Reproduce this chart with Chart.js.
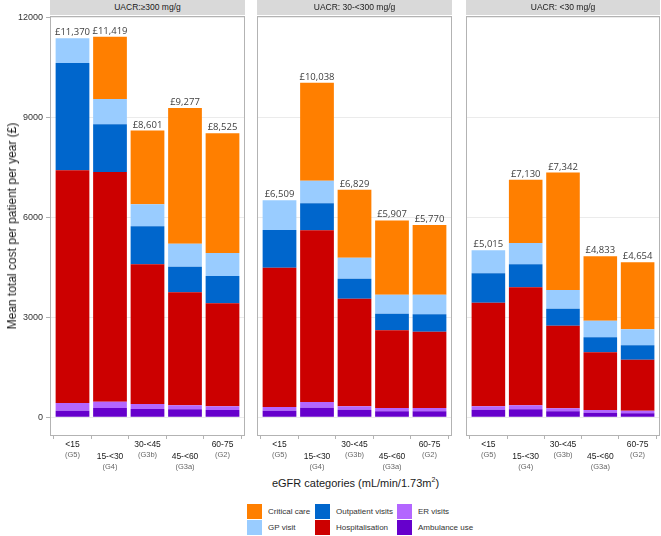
<!DOCTYPE html>
<html>
<head>
<meta charset="utf-8">
<script src="https://cdn.jsdelivr.net/npm/chart.js@4.4.1/dist/chart.umd.min.js"></script>
<style>
  html, body { margin:0; padding:0; background:#fff; }
  #wrap { position:relative; width:661px; height:536px; overflow:hidden; font-family:"Liberation Sans", Arial, sans-serif; }
  canvas { position:absolute; top:0; }
  .strip { position:absolute; top:0; height:15px; background:#d9d9d9; color:#1a1a1a; font-size:8.5px; line-height:15px; text-align:center; }
  #ytitle { position:absolute; left:12px; top:226px; transform:translate(-50%,-50%) rotate(-90deg); white-space:nowrap; font-size:12px; color:#1a1a1a; }
  #xtitle { position:absolute; left:0; width:711px; top:476px; text-align:center; font-size:11px; line-height:14px; color:#1a1a1a; }
  #xtitle sup { font-size:7px; line-height:0; }
  .lg { position:absolute; font-size:8px; color:#333; line-height:15px; white-space:nowrap; }
  .sw { position:absolute; width:15px; height:15px; }
</style>
</head>
<body>
<div id="wrap">
  <canvas id="c0" width="247" height="475" style="left:0px;width:247px;height:475px"></canvas>
  <canvas id="c1" width="200" height="475" style="left:255px;width:200px;height:475px"></canvas>
  <canvas id="c2" width="197" height="475" style="left:464px;width:197px;height:475px"></canvas>
  <div id="strips"></div>
  <div id="ytitle">Mean total cost per patient per year (£)</div>
  <div id="xtitle">eGFR categories (mL/min/1.73m<sup>2</sup>)</div>
  <div id="legend"></div>
</div>
<script>
// ---------- data ----------
const categories = ['<15', '15-<30', '30-<45', '45-<60', '60-75'];
const stages = ['(G5)', '(G4)', '(G3b)', '(G3a)', '(G2)'];
const panelTitles = ['UACR:≥300 mg/g', 'UACR: 30-<300 mg/g', 'UACR: <30 mg/g'];
const seriesNames = ['Ambulance use', 'ER visits', 'Hospitalisation', 'Outpatient visits', 'GP visit', 'Critical care'];
const seriesColors = ['#6600CC', '#B366FF', '#CC0000', '#0066CC', '#99CCFF', '#FF7F00'];
// each array: [panel UACR>=300, panel 30-<300, panel <30], 5 eGFR categories each
const ambulanceUse = [[200, 280, 250, 240, 220], [200, 290, 230, 180, 180], [230, 240, 180, 140, 120]];
const erVisits = [[230, 190, 150, 120, 110], [110, 170, 100, 100, 100], [100, 120, 90, 80, 80]];
const hospitalisation = [[6980, 6890, 4190, 3390, 3090], [4180, 5150, 3230, 2330, 2290], [3110, 3540, 2480, 1730, 1530]];
const outpatientVisits = [[3220, 1430, 1140, 770, 820], [1130, 810, 600, 500, 520], [880, 690, 510, 450, 430]];
const gpVisit = [[740, 760, 660, 690, 690], [889, 680, 630, 570, 590], [695, 640, 560, 500, 480]];
const criticalCare = [[0, 1869, 2211, 4067, 3595], [0, 2938, 2039, 2227, 2090], [0, 1900, 3522, 1933, 2014]];
const totals = [[11370, 11419, 8601, 9277, 8525], [6509, 10038, 6829, 5907, 5770], [5015, 7130, 7342, 4833, 4654]];
const yTicks = [0, 3000, 6000, 9000, 12000];

const seriesData = [ambulanceUse, erVisits, hospitalisation, outpatientVisits, gpVisit, criticalCare];

// ---------- plugins ----------
const panelPlugin = {
  id: 'panel',
  afterDraw(chart) {
    const ctx = chart.ctx, a = chart.chartArea;
    const p = chart.options.plugins.panel;
    ctx.save();
    ctx.strokeStyle = '#b3b3b3';
    ctx.lineWidth = 1;
    ctx.strokeRect(a.left + 0.5, a.top + 0.5, a.right - a.left - 1, a.bottom - a.top - 1);
    // value labels
    const xs = chart.scales.x, ys = chart.scales.y;
    ctx.fillStyle = '#404040';
    ctx.font = '9.5px "Open Sans", "Liberation Sans", sans-serif';
    ctx.textAlign = 'center';
    ctx.textBaseline = 'alphabetic';
    p.totals.forEach((t, i) => {
      ctx.fillText('£' + t.toLocaleString('en-GB'), xs.getPixelForValue(i + 1), ys.getPixelForValue(t) - 3);
    });
    // x tick labels (dodged in two rows)
    categories.forEach((c, i) => {
      const x = xs.getPixelForValue(i + 1);
      const row = i % 2;
      const y0 = row === 0 ? 445 : 457;
      ctx.textBaseline = 'middle';
      ctx.fillStyle = '#1a1a1a';
      ctx.font = '8.5px "Liberation Sans", Arial, sans-serif';
      ctx.fillText(c, x, y0);
      ctx.fillStyle = '#666';
      ctx.font = '7.5px "Liberation Sans", Arial, sans-serif';
      ctx.fillText(stages[i], x, y0 + 9.5);
    });
    ctx.restore();
  }
};

function makeChart(id, p) {
  const datasets = seriesNames.map((name, s) => ({
    label: name,
    data: seriesData[s][p].map((v, i) => ({ x: i + 1, y: v })),
    backgroundColor: seriesColors[s],
    borderWidth: 0,
    categoryPercentage: 1,
    barPercentage: 0.9
  }));
  const first = p === 0;
  const pad = [{ top: 16, left: 0, right: 2, bottom: 0 }, { top: 16, left: 2, right: 3, bottom: 0 }, { top: 16, left: 2, right: 1, bottom: 0 }][p];
  return new Chart(document.getElementById(id), {
    type: 'bar',
    data: { datasets },
    options: {
      responsive: false,
      animation: false,
      devicePixelRatio: 1,
      layout: { padding: pad },
      plugins: { legend: { display: false }, tooltip: { enabled: false }, panel: { totals: totals[p] } },
      scales: {
        x: {
          type: 'linear', stacked: true, min: 0.4, max: 5.6, offset: false,
          afterBuildTicks(scale) { scale.ticks = categories.map((c, i) => ({ value: i + 1 })); },
          afterFit(scale) { scale.height = 39; },
          ticks: { display: false },
          grid: { drawOnChartArea: false, drawTicks: true, tickLength: 3, tickColor: '#b3b3b3' },
          border: { display: false }
        },
        y: {
          stacked: true, min: -561, max: 12039,
          afterBuildTicks(scale) { scale.ticks = yTicks.map(v => ({ value: v })); },
          afterFit(scale) { scale.width = first ? 50 : 0; },
          ticks: {
            display: first, padding: 3, color: '#333',
            font: { family: '"Liberation Sans", Arial, sans-serif', size: 9 },
            callback: v => String(v)
          },
          grid: { color: '#ebebeb', drawTicks: first, tickLength: 4, tickColor: '#b3b3b3' },
          border: { display: false }
        }
      }
    },
    plugins: [panelPlugin]
  });
}

const charts = ['c0', 'c1', 'c2'].map((id, p) => makeChart(id, p));

// strip headers aligned to chart areas
const strips = document.getElementById('strips');
const canvasLefts = [0, 255, 464];
charts.forEach((ch, p) => {
  const a = ch.chartArea;
  const d = document.createElement('div');
  d.className = 'strip';
  d.style.left = (canvasLefts[p] + a.left) + 'px';
  d.style.width = (a.right - a.left) + 'px';
  d.textContent = panelTitles[p];
  strips.appendChild(d);
});

// legend
const legend = document.getElementById('legend');
const legendOrder = [[5, 3, 1], [4, 2, 0]];
const colX = [247, 315, 397];
const rowY = [504, 520];
legendOrder.forEach((row, r) => row.forEach((s, c) => {
  const sw = document.createElement('div');
  sw.className = 'sw';
  sw.style.left = colX[c] + 'px';
  sw.style.top = rowY[r] + 'px';
  sw.style.background = seriesColors[s];
  legend.appendChild(sw);
  const t = document.createElement('div');
  t.className = 'lg';
  t.style.left = (colX[c] + 21) + 'px';
  t.style.top = rowY[r] + 'px';
  t.textContent = seriesNames[s];
  legend.appendChild(t);
}));
</script>
</body>
</html>
